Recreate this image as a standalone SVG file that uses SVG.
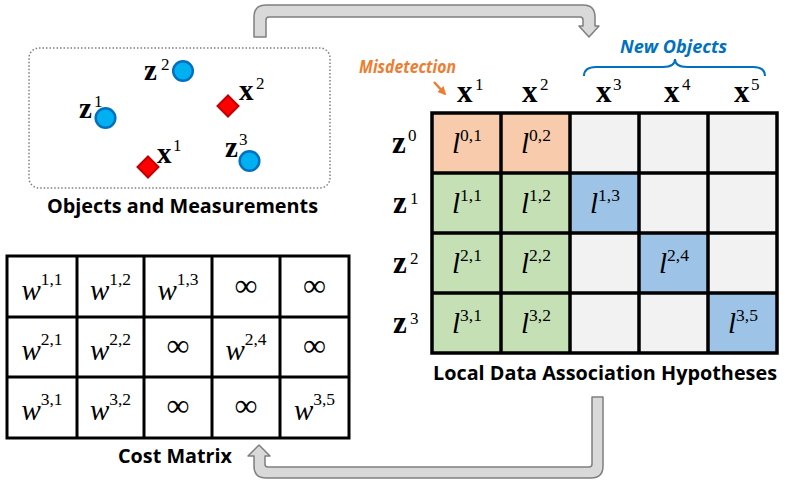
<svg xmlns="http://www.w3.org/2000/svg" width="788" height="485" viewBox="0 0 788 485">
<style>
.cap{font-family:"Open Sans",Lato,"DejaVu Sans",sans-serif;font-weight:bold;font-size:20px;fill:#000}
.lab{font-family:"Open Sans",Lato,"DejaVu Sans",sans-serif;font-weight:bold;font-style:italic;font-size:18px}
.bv{font-family:"Liberation Serif","Times New Roman",serif;font-weight:bold;font-size:31px;fill:#000}
.bvs{font-family:"Liberation Serif","Times New Roman",serif;font-weight:bold;font-size:29px;fill:#000}
.sup{font-family:"Liberation Serif","Times New Roman",serif;font-size:17px;fill:#000}
.it{font-family:"Liberation Serif","Times New Roman",serif;font-style:italic;font-size:29px;fill:#000}
.ss{font-size:17.5px;font-style:normal}
.inf{font-family:"Liberation Serif","Times New Roman",serif;font-size:32px;fill:#000}
.flow{fill:#d9d9d9;stroke:#7f7f7f;stroke-width:1.5;stroke-linejoin:round}
.meas{fill:#00b0f0;stroke:#0070c0;stroke-width:2.5}
.obj{fill:#ff0000;stroke:#c00000;stroke-width:2}
.grid{stroke:#000;fill:none}
.or{fill:#f8cbad}.gr{fill:#c5e0b4}.bl{fill:#9dc3e6}.ly{fill:#f2f2f2}
</style>
<defs>
<marker id="oh" viewBox="0 0 10 10" refX="8" refY="5" markerWidth="3.4" markerHeight="3.4" orient="auto">
<path d="M0,0 L10,5 L0,10 Z" fill="#ed7d31"/>
</marker>
</defs>

<g id="connectors">
<path class="flow" d="M254,37 L254,17 Q254,5 266,5 L583,5 Q595,5 595,17 L595,26 L599,26 L589,37 L579,26 L583,26 L583,20 Q583,17 580,17 L269,17 Q266,17 266,20 L266,37 Z"/>
<path class="flow" d="M592,397 L603,397 L603,466 Q603,478 591,478 L266,478 Q254,478 254,466 L254,456 L248,456 L259,445 L270,456 L265,456 L265,464 Q265,467 268,467 L589,467 Q592,467 592,464 Z"/>
</g>

<g id="objects-measurements">
<rect x="29" y="48" width="301" height="140" rx="10" fill="none" stroke="#7f7f7f" stroke-width="1.5" stroke-dasharray="1.5 2"/>
<text y="80"><tspan class="bvs" x="144">z</tspan><tspan class="sup" x="161" y="70">2</tspan></text>
<circle class="meas" cx="183" cy="71" r="9.8"/>
<text y="118"><tspan class="bvs" x="79">z</tspan><tspan class="sup" x="94" y="107">1</tspan></text>
<circle class="meas" cx="105.5" cy="118" r="9.8"/>
<text y="157"><tspan class="bvs" x="225">z</tspan><tspan class="sup" x="239" y="145">3</tspan></text>
<circle class="meas" cx="249.5" cy="161" r="9.8"/>
<polygon class="obj" points="228,95.5 238.5,106 228,116.5 217.5,106"/>
<text y="100"><tspan class="bvs" x="239">x</tspan><tspan class="sup" x="256" y="89">2</tspan></text>
<polygon class="obj" points="148,156.5 158.5,167 148,177.5 137.5,167"/>
<text y="163"><tspan class="bvs" x="157">x</tspan><tspan class="sup" x="173" y="151">1</tspan></text>
<text class="cap" x="47" y="213" textLength="271" lengthAdjust="spacingAndGlyphs">Objects and Measurements</text>
</g>

<g id="hypotheses">
<rect class="or" x="432" y="113" width="138" height="60"/>
<rect class="ly" x="570" y="113" width="207" height="60"/>
<rect class="gr" x="432" y="173" width="138" height="180"/>
<rect class="ly" x="570" y="173" width="207" height="180"/>
<rect class="bl" x="570" y="173" width="69" height="60"/>
<rect class="bl" x="639" y="233" width="69" height="60"/>
<rect class="bl" x="708" y="293" width="69" height="60"/>
<path class="grid" stroke-width="3.5" d="M432,113 H777 V353 H432 Z M501,113 V353 M570,113 V353 M639,113 V353 M708,113 V353 M432,173 H777 M432,233 H777 M432,293 H777"/>
<g class="it" text-anchor="middle">
<text x="467" y="153">l<tspan class="ss" dy="-12">0,1</tspan></text>
<text x="536" y="153">l<tspan class="ss" dy="-12">0,2</tspan></text>
<text x="467" y="213">l<tspan class="ss" dy="-12">1,1</tspan></text>
<text x="536" y="213">l<tspan class="ss" dy="-12">1,2</tspan></text>
<text x="605" y="213">l<tspan class="ss" dy="-12">1,3</tspan></text>
<text x="467" y="273">l<tspan class="ss" dy="-12">2,1</tspan></text>
<text x="536" y="273">l<tspan class="ss" dy="-12">2,2</tspan></text>
<text x="674" y="273">l<tspan class="ss" dy="-12">2,4</tspan></text>
<text x="467" y="333">l<tspan class="ss" dy="-12">3,1</tspan></text>
<text x="536" y="333">l<tspan class="ss" dy="-12">3,2</tspan></text>
<text x="743" y="333">l<tspan class="ss" dy="-12">3,5</tspan></text>
</g>
<text y="153"><tspan class="bv" x="392">z</tspan><tspan class="sup" x="408" y="141">0</tspan></text>
<text y="213"><tspan class="bv" x="393">z</tspan><tspan class="sup" x="410" y="204">1</tspan></text>
<text y="273"><tspan class="bv" x="393">z</tspan><tspan class="sup" x="410" y="264">2</tspan></text>
<text y="333"><tspan class="bv" x="393">z</tspan><tspan class="sup" x="410" y="324">3</tspan></text>
<text y="102"><tspan class="bv" x="457">x</tspan><tspan class="sup" x="475" y="90">1</tspan></text>
<text y="102"><tspan class="bv" x="522">x</tspan><tspan class="sup" x="540" y="90">2</tspan></text>
<text y="102"><tspan class="bv" x="596">x</tspan><tspan class="sup" x="613" y="90">3</tspan></text>
<text y="102"><tspan class="bv" x="664">x</tspan><tspan class="sup" x="682" y="90">4</tspan></text>
<text y="102"><tspan class="bv" x="734">x</tspan><tspan class="sup" x="751" y="90">5</tspan></text>
<text class="cap" x="433" y="380" textLength="344" lengthAdjust="spacingAndGlyphs">Local Data Association Hypotheses</text>
</g>

<g id="misdetection">
<text class="lab" x="359" y="73" fill="#ed7d31" textLength="97" lengthAdjust="spacingAndGlyphs">Misdetection</text>
<line x1="434" y1="82" x2="445" y2="94" stroke="#ed7d31" stroke-width="2.5" marker-end="url(#oh)"/>
</g>

<g id="new-objects">
<text class="lab" x="620" y="53" fill="#0070c0" textLength="107" lengthAdjust="spacingAndGlyphs">New Objects</text>
<path d="M584,76 Q584,67 596,67 L663,67 Q675,67 675,59 Q675,67 687,67 L753,67 Q765,67 765,76" fill="none" stroke="#0070c0" stroke-width="2"/>
</g>

<g id="cost-matrix">
<rect x="7" y="256" width="342" height="182" fill="#fff"/>
<path class="grid" stroke-width="3" d="M7,256 H349 V438 H7 Z M77,256 V438 M144,256 V438 M212,256 V438 M280,256 V438 M7,317 H349 M7,377 H349"/>
<g class="it" text-anchor="middle">
<text x="42" y="300">w<tspan class="ss" dy="-15">1,1</tspan></text>
<text x="110.5" y="300">w<tspan class="ss" dy="-15">1,2</tspan></text>
<text x="178" y="300">w<tspan class="ss" dy="-15">1,3</tspan></text>
<text x="42" y="360">w<tspan class="ss" dy="-15">2,1</tspan></text>
<text x="110.5" y="360">w<tspan class="ss" dy="-15">2,2</tspan></text>
<text x="246" y="360">w<tspan class="ss" dy="-15">2,4</tspan></text>
<text x="42" y="420">w<tspan class="ss" dy="-15">3,1</tspan></text>
<text x="110.5" y="420">w<tspan class="ss" dy="-15">3,2</tspan></text>
<text x="314.5" y="420">w<tspan class="ss" dy="-15">3,5</tspan></text>
</g>
<g class="inf" text-anchor="middle">
<text x="246" y="296">∞</text>
<text x="314.5" y="296">∞</text>
<text x="178" y="356">∞</text>
<text x="314.5" y="356">∞</text>
<text x="178" y="416">∞</text>
<text x="246" y="416">∞</text>
</g>
<text class="cap" x="118" y="463" textLength="114" lengthAdjust="spacingAndGlyphs">Cost Matrix</text>
</g>
</svg>
